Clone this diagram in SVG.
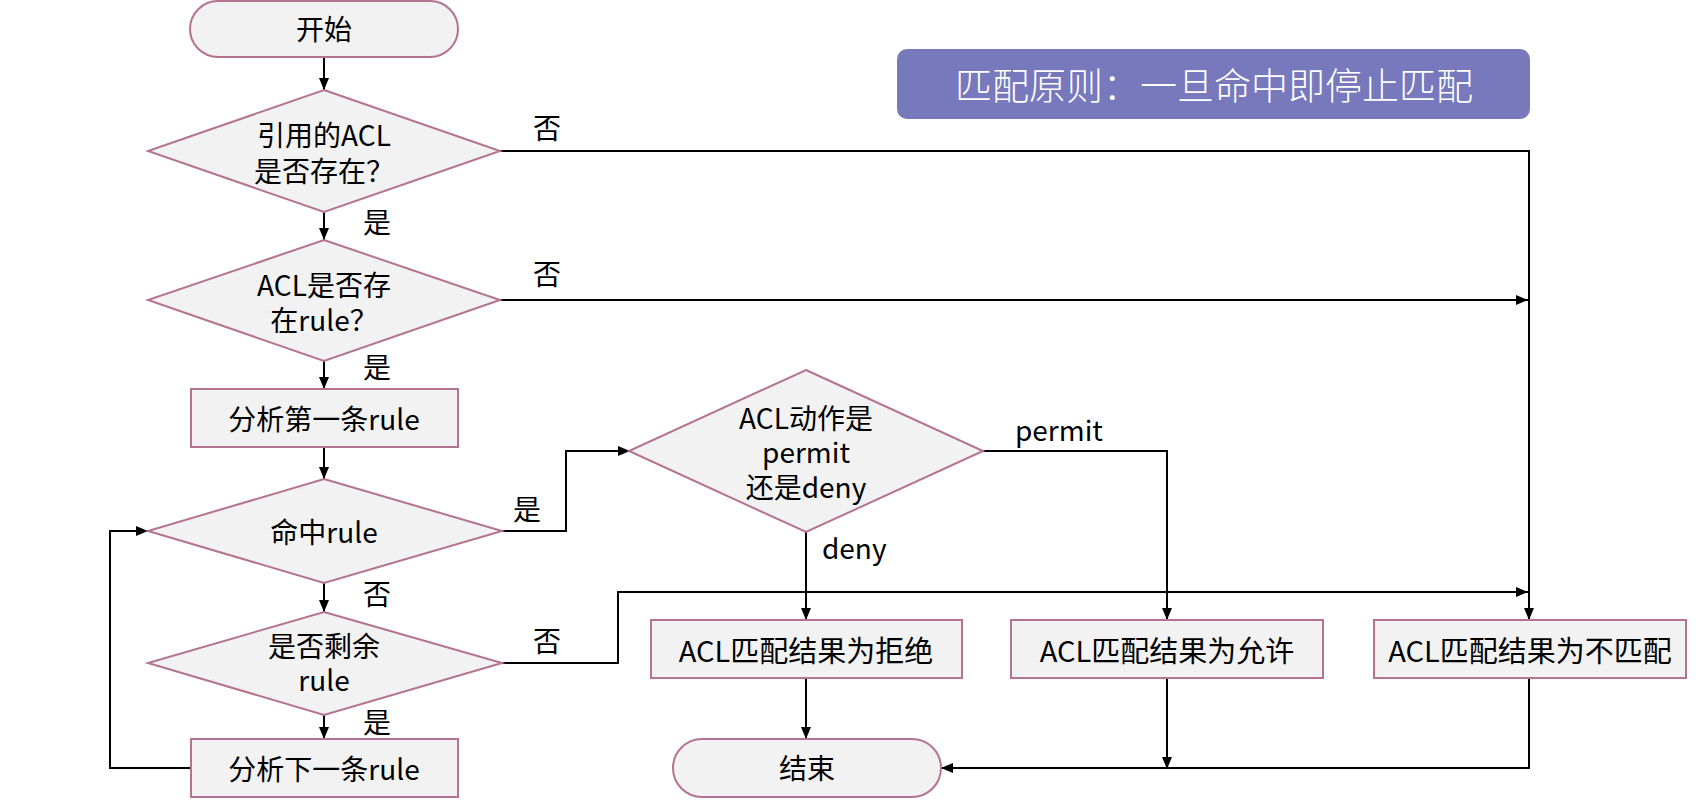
<svg xmlns="http://www.w3.org/2000/svg" width="1702" height="810" viewBox="0 0 1702 810">
<style>
.node{fill:#f2f2f2;stroke:#b4738f;stroke-width:2}
.t{font-family:"Noto Sans CJK SC","Noto Sans",sans-serif;font-size:28px;fill:#000;text-anchor:middle;dominant-baseline:central}
.big{font-size:29px}
.lbl{font-family:"Noto Sans CJK SC","Noto Sans",sans-serif;font-size:28px;fill:#000;dominant-baseline:central}
.c{fill:none;stroke:#000;stroke-width:2}
.title{font-family:"Noto Sans CJK SC","Noto Sans",sans-serif;font-size:37px;font-weight:300;fill:#fff;text-anchor:middle;dominant-baseline:central}
</style>
<defs>
<marker id="ah" markerUnits="userSpaceOnUse" markerWidth="12" markerHeight="10" refX="12" refY="5" orient="auto">
<path d="M0,0 L12,5 L0,10 z" fill="#000"/>
</marker>
</defs>
<rect width="1702" height="810" fill="#fff"/>

<g id="principle">
<rect x="897" y="49" width="633" height="70" rx="10" fill="#7878bc"/>
<text class="title" x="1214" y="84">匹配原则：一旦命中即停止匹配</text>
</g>

<g id="connectors">
<path class="c" d="M324,57 V90" marker-end="url(#ah)"/>
<path class="c" d="M500,151 H1529 V620" marker-end="url(#ah)"/>
<path class="c" d="M324,212 V240" marker-end="url(#ah)"/>
<path class="c" d="M500,300 H1528" marker-end="url(#ah)"/>
<path class="c" d="M324,361 V389" marker-end="url(#ah)"/>
<path class="c" d="M324,447 V479" marker-end="url(#ah)"/>
<path class="c" d="M502,531 H566 V451 H630" marker-end="url(#ah)"/>
<path class="c" d="M324,583 V612" marker-end="url(#ah)"/>
<path class="c" d="M502,663 H618 V592 H1528" marker-end="url(#ah)"/>
<path class="c" d="M324,715 V739" marker-end="url(#ah)"/>
<path class="c" d="M191,768 H110 V531 H148" marker-end="url(#ah)"/>
<path class="c" d="M982,451 H1167 V620" marker-end="url(#ah)"/>
<path class="c" d="M806,532 V620" marker-end="url(#ah)"/>
<path class="c" d="M806,678 V739" marker-end="url(#ah)"/>
<path class="c" d="M1167,678 V769" marker-end="url(#ah)"/>
<path class="c" d="M1529,678 V768 H941" marker-end="url(#ah)"/>
<text class="lbl" x="533" y="127">否</text>
<text class="lbl" x="363" y="221">是</text>
<text class="lbl" x="533" y="273">否</text>
<text class="lbl" x="363" y="366">是</text>
<text class="lbl" x="513" y="508">是</text>
<text class="lbl" x="363" y="593">否</text>
<text class="lbl" x="533" y="640">否</text>
<text class="lbl" x="363" y="721">是</text>
<text class="lbl" x="1015" y="429">permit</text>
<text class="lbl" x="822" y="547">deny</text>
</g>

<g id="start">
<rect class="node" x="190" y="1" width="268" height="56" rx="28"/>
<text class="t" x="324" y="28">开始</text>
</g>
<g id="acl-exists">
<polygon class="node" points="324,90 500,151 324,212 148,151"/>
<text class="t" x="324" y="134">引用的ACL</text>
<text class="t" x="324" y="170">是否存在？</text>
</g>
<g id="rule-exists">
<polygon class="node" points="324,240 500,300 324,361 148,300"/>
<text class="t" x="324" y="284">ACL是否存</text>
<text class="t" x="324" y="319">在rule？</text>
</g>
<g id="first-rule">
<rect class="node" x="191" y="389" width="267" height="58"/>
<text class="t" x="324" y="418">分析第一条rule</text>
</g>
<g id="hit-rule">
<polygon class="node" points="324,479 502,531 324,583 148,531"/>
<text class="t" x="324" y="531">命中rule</text>
</g>
<g id="rules-left">
<polygon class="node" points="324,612 502,663 324,715 148,663"/>
<text class="t" x="324" y="645">是否剩余</text>
<text class="t" x="324" y="679">rule</text>
</g>
<g id="next-rule">
<rect class="node" x="191" y="739" width="267" height="58"/>
<text class="t" x="324" y="768">分析下一条rule</text>
</g>
<g id="action">
<polygon class="node" points="806,370 983,451 806,532 629,451"/>
<text class="t" x="806" y="417">ACL动作是</text>
<text class="t" x="806" y="451">permit</text>
<text class="t" x="806" y="486">还是deny</text>
</g>
<g id="deny">
<rect class="node" x="651" y="620" width="311" height="58"/>
<text class="t big" x="806" y="649">ACL匹配结果为拒绝</text>
</g>
<g id="permit">
<rect class="node" x="1011" y="620" width="312" height="58"/>
<text class="t big" x="1167" y="649">ACL匹配结果为允许</text>
</g>
<g id="nomatch">
<rect class="node" x="1374" y="620" width="312" height="58"/>
<text class="t big" x="1530" y="649">ACL匹配结果为不匹配</text>
</g>
<g id="end">
<rect class="node" x="673" y="739" width="268" height="58" rx="29"/>
<text class="t" x="807" y="767">结束</text>
</g>
</svg>
